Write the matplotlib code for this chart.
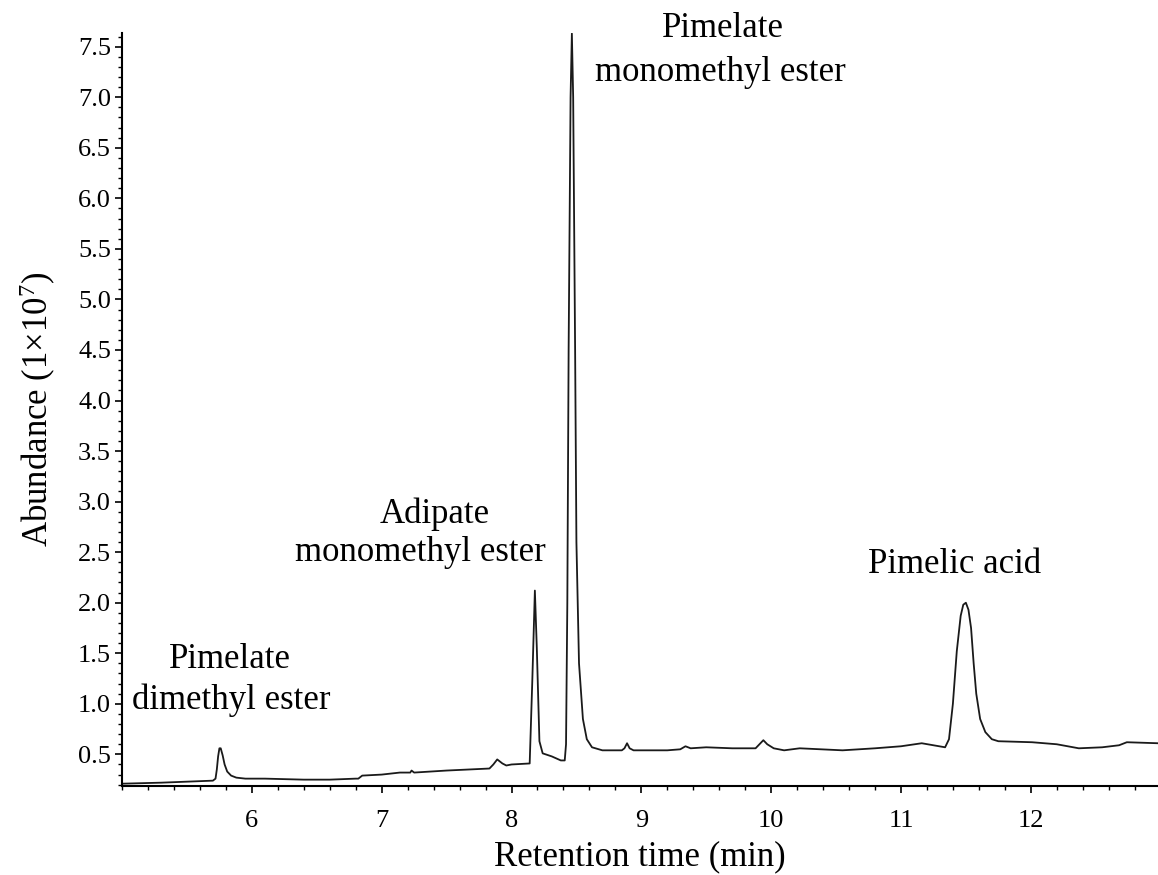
import matplotlib
matplotlib.use("Agg")
import matplotlib.pyplot as plt
from matplotlib.ticker import MultipleLocator

plt.rcParams['font.family'] = ['Liberation Serif', 'DejaVu Serif']
plt.rcParams['mathtext.fontset'] = 'custom'
plt.rcParams['mathtext.rm'] = 'Liberation Serif'
plt.rcParams['mathtext.it'] = 'Liberation Serif:italic'

# Retention time (min) and abundance (1e7)
time = [5.00, 5.30, 5.50, 5.70, 5.72, 5.73, 5.74, 5.75, 5.76, 5.775, 5.79, 5.81,
        5.84, 5.88, 5.95, 6.10, 6.40, 6.60, 6.80, 6.82, 6.85, 7.00, 7.14, 7.22,
        7.23, 7.25, 7.50, 7.83, 7.86, 7.89, 7.93, 7.96, 8.00, 8.14, 8.16, 8.18,
        8.195, 8.215, 8.24, 8.31, 8.38, 8.41, 8.42, 8.43, 8.44, 8.455, 8.465, 8.475,
        8.49, 8.50, 8.52, 8.55, 8.58, 8.62, 8.70, 8.85, 8.87, 8.89, 8.91, 8.94,
        9.00, 9.20, 9.30, 9.34, 9.38, 9.50, 9.70, 9.88, 9.91, 9.94, 9.97, 10.02,
        10.10, 10.22, 10.55, 10.80, 11.00, 11.16, 11.34, 11.37, 11.40, 11.43, 11.46,
        11.48, 11.50, 11.52, 11.54, 11.56, 11.58, 11.61, 11.65, 11.70, 11.75, 12.01,
        12.20, 12.37, 12.55, 12.68, 12.74, 12.98]
abundance = [0.21, 0.22, 0.23, 0.24, 0.26, 0.35, 0.48, 0.56, 0.56, 0.49, 0.40, 0.33,
             0.29, 0.27, 0.26, 0.26, 0.25, 0.25, 0.26, 0.26, 0.29, 0.30, 0.32, 0.32,
             0.34, 0.32, 0.34, 0.36, 0.40, 0.45, 0.41, 0.39, 0.40, 0.41, 1.22, 2.12,
             1.55, 0.63, 0.51, 0.48, 0.44, 0.44, 0.60, 2.00, 4.50, 7.00, 7.63, 7.00,
             4.50, 2.60, 1.40, 0.85, 0.65, 0.57, 0.54, 0.54, 0.56, 0.61, 0.56, 0.54,
             0.54, 0.54, 0.55, 0.58, 0.56, 0.57, 0.56, 0.56, 0.60, 0.64, 0.60, 0.56,
             0.54, 0.56, 0.54, 0.56, 0.58, 0.61, 0.57, 0.65, 1.00, 1.52, 1.87,
             1.98, 2.00, 1.93, 1.75, 1.40, 1.10, 0.85, 0.72, 0.65, 0.63, 0.62,
             0.60, 0.56, 0.57, 0.59, 0.62, 0.61]

label_lines = ["Pimelate", "dimethyl ester", "Adipate", "monomethyl ester",
               "Pimelate", "monomethyl ester", "Pimelic acid"]
label_x = [5.83, 5.84, 7.41, 7.30, 9.63, 9.61, 11.41]
label_y = [1.44, 1.04, 2.87, 2.50, 7.68, 7.24, 2.38]

fig = plt.figure(figsize=(11.58, 8.75), dpi=100)
ax = fig.add_axes([0.1054, 0.1017, 0.8946, 0.8606])
ax.plot(time, abundance, color='#1a1a1a', linewidth=1.3)

ax.set_xlim(5.0, 12.98)
ax.set_ylim(0.187, 7.635)
ax.xaxis.set_minor_locator(MultipleLocator(0.2))
ax.yaxis.set_minor_locator(MultipleLocator(0.1))
ax.set_xticks([6, 7, 8, 9, 10, 11, 12])
ax.set_yticks([0.5, 1.0, 1.5, 2.0, 2.5, 3.0, 3.5, 4.0, 4.5, 5.0, 5.5, 6.0, 6.5, 7.0, 7.5])
ax.yaxis.set_major_formatter(plt.FormatStrFormatter('%.1f'))

for s in ['top', 'right']:
    ax.spines[s].set_visible(False)
for s in ['left', 'bottom']:
    ax.spines[s].set_linewidth(1.5)

ax.tick_params(axis='both', which='major', direction='out', length=5, width=1.2,
               labelsize=19)
ax.tick_params(axis='y', which='major', pad=3)
ax.tick_params(axis='x', which='major', pad=12)
ax.tick_params(axis='both', which='minor', direction='out', length=3, width=1.0)

ax.set_xlabel("Retention time (min)", fontsize=25, labelpad=6)
ax.set_ylabel("Abundance (1\u00d710$^{7}$)", fontsize=25, labelpad=14)

for t, x, y in zip(label_lines, label_x, label_y):
    ax.text(x, y, t, ha='center', va='center', fontsize=25)

fig.savefig("out.png", dpi=100)
